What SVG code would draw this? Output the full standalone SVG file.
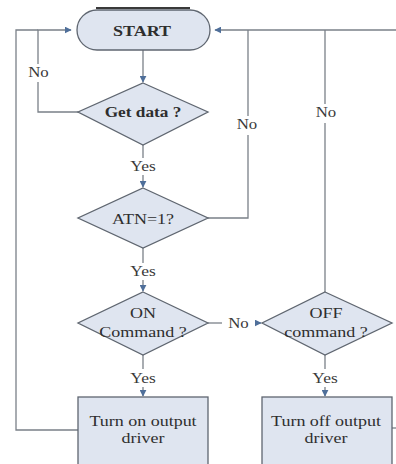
<svg xmlns="http://www.w3.org/2000/svg" width="396" height="464" viewBox="0 0 396 464">
<defs>
<style>
.shape{fill:#dfe5f0;stroke:#5f6670;stroke-width:1.3}
.line{fill:none;stroke:#7a8088;stroke-width:1.3}
.t{font-family:'Liberation Serif','DejaVu Serif',serif;font-size:15px;fill:#2e2e2e;text-anchor:middle}
.lbl{font-family:'Liberation Serif','DejaVu Serif',serif;font-size:14px;fill:#3a3a3a;text-anchor:middle}
</style>
<marker id="arr" viewBox="0 0 10 10" refX="9" refY="5" markerWidth="7" markerHeight="7" orient="auto" markerUnits="userSpaceOnUse">
<path d="M0,0 L10,5 L0,10 z" fill="#4f6f9a"/>
</marker>
</defs>
<rect width="396" height="464" fill="#ffffff"/>
<g id="connectors">
<path class="line" d="M143,50 V82" marker-end="url(#arr)"/>
<path class="line" d="M78,112 H38 V82"/>
<path class="line" d="M38,64 V30 H71" marker-end="url(#arr)"/>
<path class="line" d="M78,430 H16 V30 H38"/>
<path class="line" d="M143,145 V158"/>
<path class="line" d="M143,175 V187" marker-end="url(#arr)"/>
<path class="line" d="M208,218 H248 V135"/>
<path class="line" d="M248,116 V30"/>
<path class="line" d="M396,30 H215" marker-end="url(#arr)"/>
<path class="line" d="M325,292 V123"/>
<path class="line" d="M325,104 V30"/>
<path class="line" d="M143,248 V263"/>
<path class="line" d="M143,280 V291" marker-end="url(#arr)"/>
<path class="line" d="M208,323 H222"/>
<path class="line" d="M255,323 H261" marker-end="url(#arr)"/>
<path class="line" d="M143,355 V369"/>
<path class="line" d="M143,387 V396" marker-end="url(#arr)"/>
<path class="line" d="M325,355 V369"/>
<path class="line" d="M325,387 V396" marker-end="url(#arr)"/>
<path class="line" d="M392,428 H396"/>
<text class="lbl" transform="translate(38.5,77) scale(1.2,1)">No</text>
<text class="lbl" transform="translate(247,129) scale(1.2,1)">No</text>
<text class="lbl" transform="translate(326,117) scale(1.2,1)">No</text>
<text class="lbl" transform="translate(143,171) scale(1.25,1)">Yes</text>
<text class="lbl" transform="translate(143,276) scale(1.25,1)">Yes</text>
<text class="lbl" transform="translate(238.5,328) scale(1.2,1)">No</text>
<text class="lbl" transform="translate(143,383) scale(1.25,1)">Yes</text>
<text class="lbl" transform="translate(325,383) scale(1.25,1)">Yes</text>
</g>
<g id="start">
<line x1="96" y1="8" x2="190" y2="8" stroke="#3a3a3a" stroke-width="2"/>
<rect class="shape" x="77" y="10" width="133" height="40" rx="20" ry="20"/>
<text class="t" transform="translate(142,36) scale(1.2,1)" font-weight="bold" font-size="14">START</text>
</g>
<g id="get-data">
<polygon class="shape" points="143,83 208,112 143,145 78,112"/>
<text class="t" transform="translate(143,117) scale(1.15,1)" font-weight="bold" font-size="14">Get data ?</text>
</g>
<g id="atn">
<polygon class="shape" points="143,188 208,218 143,248 78,218"/>
<text class="t" transform="translate(143,224) scale(1.2,1)">ATN=1?</text>
</g>
<g id="on-command">
<polygon class="shape" points="143,292 208,323 143,355 78,323"/>
<text class="t" transform="translate(143,318) scale(1.2,1)">ON</text>
<text class="t" transform="translate(143,337) scale(1.2,1)">Command ?</text>
</g>
<g id="off-command">
<polygon class="shape" points="325,292 392,323 325,355 262,323"/>
<text class="t" transform="translate(326,318) scale(1.2,1)">OFF</text>
<text class="t" transform="translate(326,337) scale(1.2,1)">command ?</text>
</g>
<g id="turn-on">
<rect class="shape" x="78" y="397" width="130" height="75"/>
<text class="t" transform="translate(143,426) scale(1.2,1)">Turn on output</text>
<text class="t" transform="translate(143,443) scale(1.2,1)">driver</text>
</g>
<g id="turn-off">
<rect class="shape" x="262" y="397" width="130" height="75"/>
<text class="t" transform="translate(326,426) scale(1.2,1)">Turn off output</text>
<text class="t" transform="translate(326,443) scale(1.2,1)">driver</text>
</g>
</svg>
